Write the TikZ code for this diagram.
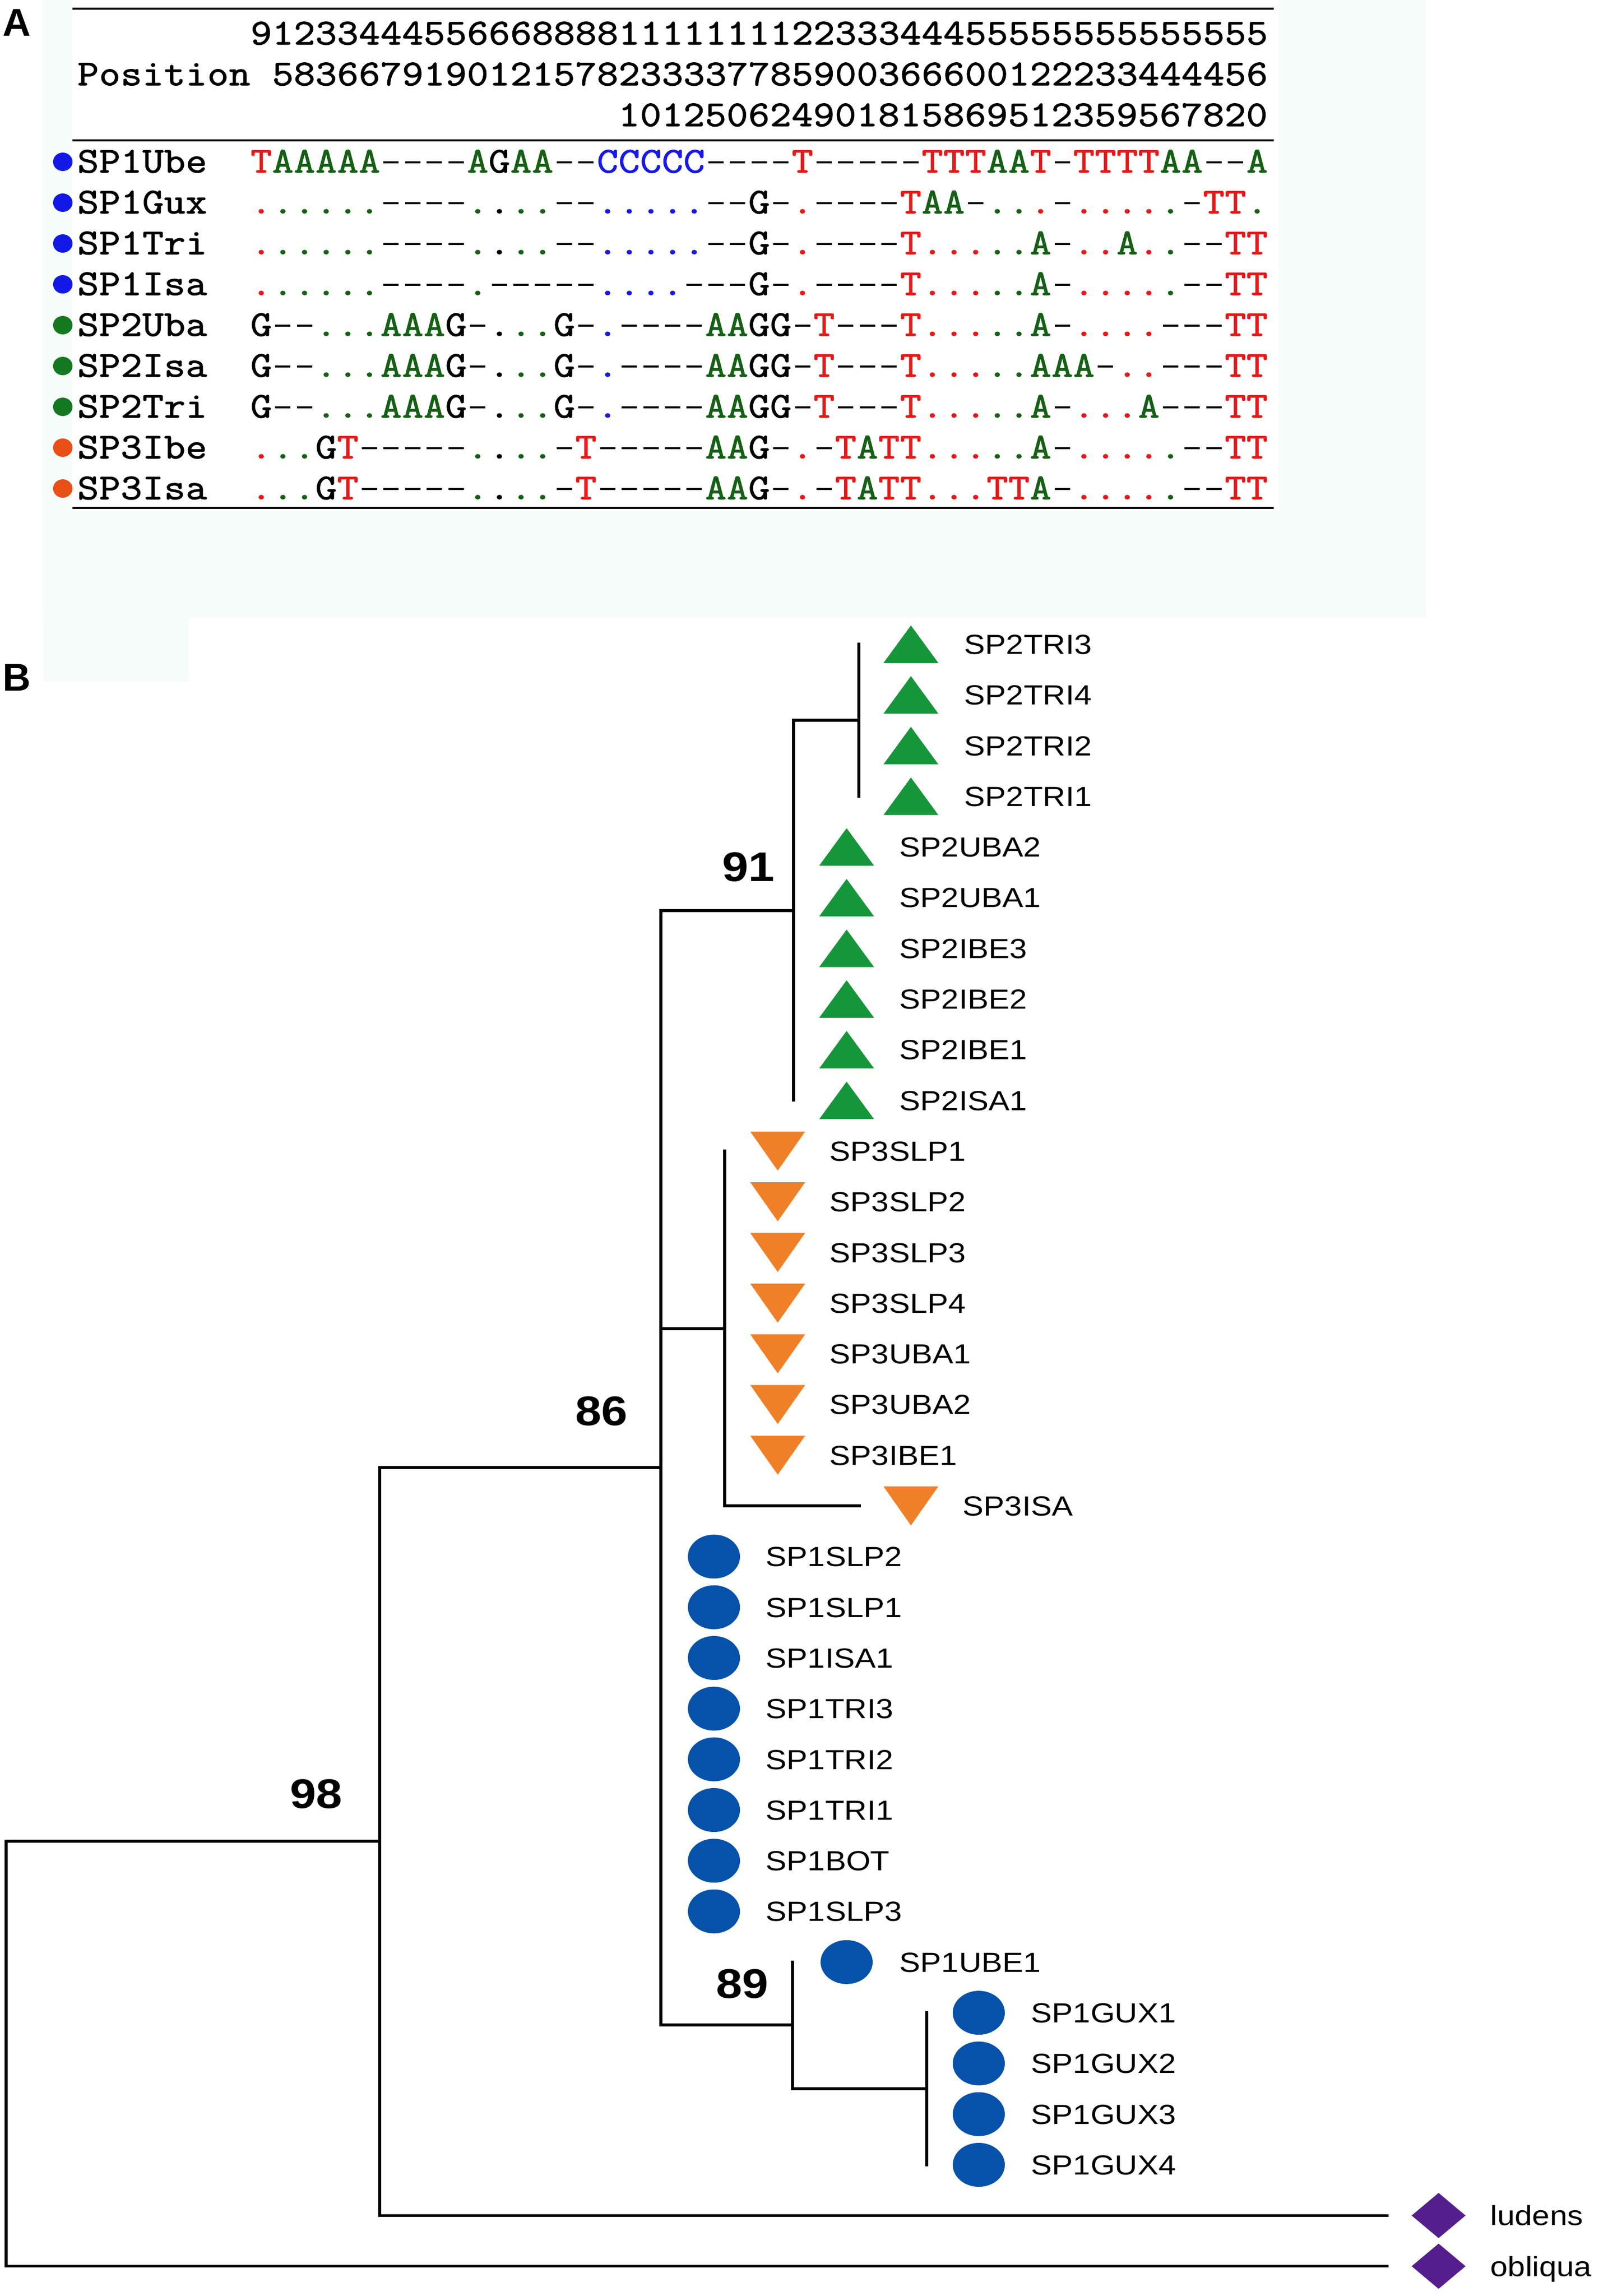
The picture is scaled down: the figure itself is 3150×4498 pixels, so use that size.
\documentclass[tikz,border=0pt]{standalone}
\usepackage{fontspec}
\setsansfont{Liberation Sans}
\setmonofont{Latin Modern Mono}[FakeBold=1.6]
\usepackage{graphicx}
\usetikzlibrary{shapes.geometric}

\definecolor{seqred}{RGB}{232,24,24}
\definecolor{seqgreen}{RGB}{22,96,22}
\definecolor{seqblue}{RGB}{24,24,232}
\definecolor{dotblue}{RGB}{18,24,230}
\definecolor{dotgreen}{RGB}{20,120,32}
\definecolor{dotorange}{RGB}{232,80,24}
\definecolor{sptwo}{RGB}{22,150,58}
\definecolor{spthree}{RGB}{240,128,40}
\definecolor{spone}{RGB}{6,82,170}
\definecolor{outgrp}{RGB}{84,30,140}
\definecolor{mint}{RGB}{246,252,249}

\newlength\seqcw
\setlength\seqcw{0.424cm}
\newcount\seqcol
\newcommand\seqdash{\rule[0.20cm]{0.30cm}{0.05cm}}
\newcommand\seqbox[2]{\makebox[\seqcw][c]{\textcolor{#1}{#2}}}
\newcommand\sq[1]{\scalebox{1}[0.88]{#1}}
\expandafter\def\csname seqccT\endcsname{seqred}
\expandafter\def\csname seqccA\endcsname{seqgreen}
\expandafter\def\csname seqccC\endcsname{seqblue}
\expandafter\def\csname seqccG\endcsname{black}
\expandafter\def\csname seqcc-\endcsname{black}
\def\seqchar#1{%
  \if#1.%
    \edef\curcol{\csname seqcc\csname refch\the\seqcol\endcsname\endcsname}%
    \seqbox{\curcol}{.}%
  \else
    \if#1-%
      \seqbox{black}{\seqdash}%
    \else
      \edef\curcol{\csname seqcc#1\endcsname}%
      \seqbox{\curcol}{#1}%
    \fi
  \fi}
\def\refloop#1{\ifx#1\relax\else\advance\seqcol by 1\relax\expandafter\xdef\csname refch\the\seqcol\endcsname{#1}\seqchar{#1}\expandafter\refloop\fi}
\def\seqloop#1{\ifx#1\relax\else\advance\seqcol by 1\relax\seqchar{#1}\expandafter\seqloop\fi}
\def\refrow#1{\seqcol=0\relax\refloop#1\relax}
\def\seqrow#1{\seqcol=0\relax\seqloop#1\relax}
\def\plainloop#1{\ifx#1\relax\else\makebox[\seqcw][c]{#1}\expandafter\plainloop\fi}
\def\plainrow#1{\plainloop#1\relax}

\begin{document}
\begin{tikzpicture}[x=0.01cm, y=-0.01cm,
  seqtxt/.style={anchor=base west, inner sep=0pt, font=\ttfamily\fontsize{23pt}{26pt}\selectfont},
  namedot/.style={ellipse, inner sep=0pt, minimum width=0.38cm, minimum height=0.36cm},
  lbl/.style={anchor=base west, inner sep=0pt, font=\sffamily\fontsize{17.5pt}{20pt}\selectfont},
  bs/.style={inner sep=0pt, font=\sffamily\bfseries\fontsize{26.2pt}{30pt}\selectfont},
  panel/.style={anchor=base west, inner sep=0pt, font=\sffamily\bfseries\fontsize{21.6pt}{24pt}\selectfont},
  branch/.style={line width=0.055cm, line cap=rect},
  rulel/.style={line width=0.045cm},
  upbox/.style={inner sep=0pt, minimum width=1.06cm, minimum height=0.72cm},
  downbox/.style={inner sep=0pt, minimum width=1.06cm, minimum height=0.75cm},
  circbox/.style={inner sep=0pt, minimum width=1.02cm, minimum height=0.86cm},
  diabox/.style={inner sep=0pt, minimum width=1.04cm, minimum height=0.87cm}]

\useasboundingbox (0,0) rectangle (3150,4498);
\fill[white] (0,0) rectangle (3150,4498);
\fill[mint] (83,0) rectangle (2795,1210);
\fill[mint] (85,1210) rectangle (370,1335);
\fill[white] (142,0) rectangle (2505,1000);

% ---------------- Panel A ----------------
\node[panel] (pA) at (5,70) {A};
\draw[rulel] (142,17) -- (2496,17);
\draw[rulel] (142,275) -- (2496,275);
\draw[rulel] (142,995) -- (2496,995);

\node[seqtxt] (h1) at (490,87) {\sq{\plainrow{91233444556668888111111112233344455555555555555}}};
\node[seqtxt] (h2lab) at (150.8,167) {\sq{\plainrow{Position}}};
\node[seqtxt] (h2) at (532.4,167) {\sq{\plainrow{5836679190121578233337785900366600122233444456}}};
\node[seqtxt] (h3) at (1210.8,247) {\sq{\plainrow{101250624901815869512359567820}}};

\node[seqtxt] (q1) at (490,338) {\sq{\refrow{TAAAAA----AGAA--CCCCC----T-----TTTAAT-TTTTAA--A}}};
\node[seqtxt] (q2) at (490,418) {\sq{\seqrow{......----....--.....--G-.----TAA-...-.....-TT.}}};
\node[seqtxt] (q3) at (490,498) {\sq{\seqrow{......----....--.....--G-.----T.....A-..A..--TT}}};
\node[seqtxt] (q4) at (490,578) {\sq{\seqrow{......----.-----....---G-.----T.....A-.....--TT}}};
\node[seqtxt] (q5) at (490,658) {\sq{\seqrow{G--...AAAG-...G-.----AAGG-T---T.....A-....---TT}}};
\node[seqtxt] (q6) at (490,738) {\sq{\seqrow{G--...AAAG-...G-.----AAGG-T---T.....AAA-..---TT}}};
\node[seqtxt] (q7) at (490,818) {\sq{\seqrow{G--...AAAG-...G-.----AAGG-T---T.....A-...A---TT}}};
\node[seqtxt] (q8) at (490,898) {\sq{\seqrow{...GT-----....-T-----AAG-.-TATT.....A-.....--TT}}};
\node[seqtxt] (q9) at (490,978) {\sq{\seqrow{...GT-----....-T-----AAG-.-TATT...TTA-.....--TT}}};

\foreach \i/\nm/\dc in {1/SP1Ube/dotblue, 2/SP1Gux/dotblue, 3/SP1Tri/dotblue, 4/SP1Isa/dotblue,
  5/SP2Uba/dotgreen, 6/SP2Isa/dotgreen, 7/SP2Tri/dotgreen, 8/SP3Ibe/dotorange, 9/SP3Isa/dotorange}{
  \pgfmathsetmacro\yb{338+80*(\i-1)}
  \node[seqtxt] (nm\i) at (150.8,\yb) {\sq{\expandafter\plainrow\expandafter{\nm}}};
  \node[namedot, fill=\dc] (d\i) at (123,{\yb-21}) {};
}

% ---------------- Panel B ----------------
\node[panel] (pB) at (5,1353) {B};

\foreach \k/\nm/\sx/\lx in {0/SP2TRI3/1785/1889, 1/SP2TRI4/1785/1889, 2/SP2TRI2/1785/1889, 3/SP2TRI1/1785/1889,
  4/SP2UBA2/1659/1762, 5/SP2UBA1/1659/1762, 6/SP2IBE3/1659/1762, 7/SP2IBE2/1659/1762, 8/SP2IBE1/1659/1762, 9/SP2ISA1/1659/1762}{
  \pgfmathsetmacro\yy{1262+99.3*\k}
  \node[upbox] (s\k) at (\sx,\yy) {};
  \fill[sptwo] (s\k.south west) -- (s\k.south east) -- (s\k.north) -- cycle;
  \node[lbl] (l\k) at (\lx,{\yy+19.4}) {\sq{\nm}};
}
\foreach \k/\nm/\sx/\lx in {10/SP3SLP1/1524/1625, 11/SP3SLP2/1524/1625, 12/SP3SLP3/1524/1625, 13/SP3SLP4/1524/1625,
  14/SP3UBA1/1524/1625, 15/SP3UBA2/1524/1625, 16/SP3IBE1/1524/1625, 17/SP3ISA/1785/1886}{
  \pgfmathsetmacro\yy{1262+99.3*\k}
  \node[downbox] (s\k) at (\sx,\yy) {};
  \fill[spthree] (s\k.north west) -- (s\k.north east) -- (s\k.south) -- cycle;
  \node[lbl] (l\k) at (\lx,{\yy+19.4}) {\sq{\nm}};
}
\foreach \k/\nm/\sx/\lx in {18/SP1SLP2/1399/1500, 19/SP1SLP1/1399/1500, 20/SP1ISA1/1399/1500, 21/SP1TRI3/1399/1500,
  22/SP1TRI2/1399/1500, 23/SP1TRI1/1399/1500, 24/SP1BOT/1399/1500, 25/SP1SLP3/1399/1500,
  26/SP1UBE1/1659/1762, 27/SP1GUX1/1918/2020, 28/SP1GUX2/1918/2020, 29/SP1GUX3/1918/2020, 30/SP1GUX4/1918/2020}{
  \pgfmathsetmacro\yy{1262+99.3*\k}
  \node[circbox] (s\k) at (\sx,\yy) {};
  \fill[spone] (s\k.center) ellipse [x radius=0.51cm, y radius=0.43cm];
  \node[lbl] (l\k) at (\lx,{\yy+19.4}) {\sq{\nm}};
}
\foreach \k/\nm in {31/ludens, 32/obliqua}{
  \pgfmathsetmacro\yy{1262+99.3*\k}
  \node[diabox] (s\k) at (2819,\yy) {};
  \fill[outgrp] (s\k.west) -- (s\k.north) -- (s\k.east) -- (s\k.south) -- cycle;
  \node[lbl] (l\k) at (2920,{\yy+19.4}) {\sq{\nm}};
}

% internal nodes of the tree
\coordinate (nTRI) at (1683,1411);
\coordinate (n91) at (1555,1784);
\coordinate (nSP3) at (1420,2603);
\coordinate (n89) at (1553,3967);
\coordinate (nGUX) at (1816,4092);
\coordinate (n86) at (1295,2875);
\coordinate (n98) at (744,3607);
\coordinate (nroot) at (12,4023);
\coordinate (t17) at ([xshift=-0.47cm]s17.west);
\coordinate (t31) at ([xshift=-0.48cm]s31.west);
\coordinate (t32) at ([xshift=-0.48cm]s32.west);

% verticals
\draw[branch] (nTRI |- s0) -- (nTRI |- s3);
\draw[branch] (n91 |- nTRI) -- (n91 |- s9);
\draw[branch] (nSP3 |- s10) -- (nSP3 |- s17);
\draw[branch] (n86 |- n91) -- (n86 |- n89);
\draw[branch] (n89 |- s26) -- (n89 |- nGUX);
\draw[branch] (nGUX |- s27) -- (nGUX |- s30);
\draw[branch] (n98 |- n86) -- (n98 |- s31);
\draw[branch] (nroot |- n98) -- (nroot |- s32);
% horizontals
\draw[branch] (n91 |- nTRI) -- (nTRI);
\draw[branch] (n86 |- n91) -- (n91);
\draw[branch] (n86 |- nSP3) -- (nSP3);
\draw[branch] (n86 |- n89) -- (n89);
\draw[branch] (n89 |- nGUX) -- (nGUX);
\draw[branch] (n98 |- n86) -- (n86);
\draw[branch] (nroot |- n98) -- (n98);
\draw[branch] (nSP3 |- s17) -- (t17);
\draw[branch] (n98 |- s31) -- (t31);
\draw[branch] (nroot |- s32) -- (t32);

% bootstrap values
\node[bs] (b91) at (1467,1699) {\sq{91}};
\node[bs] (b86) at (1179,2765) {\sq{86}};
\node[bs] (b98) at (620,3515) {\sq{98}};
\node[bs] (b89) at (1455,3887) {\sq{89}};
\end{tikzpicture}
\end{document}
